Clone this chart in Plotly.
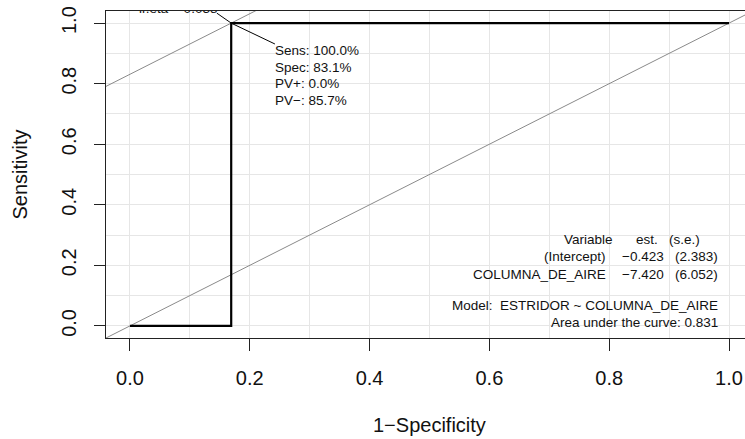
import plotly.graph_objects as go

# ROC curve (1-specificity, sensitivity)
fpr = [0.0, 0.169, 0.169, 1.0]
sens = [0.0, 0.0, 1.0, 1.0]
diag_x = [-0.04, 1.04]
cut_fpr = 0.169
cut_sens = 1.0
tangent_intercept = 0.831
lr_eta_label = "lr.eta = 0.038"
cut_lines = ["Sens: 100.0%", "Spec: 83.1%", "PV+: 0.0%", "PV\u2212: 85.7%"]
table_header = ["Variable", "est.", "(s.e.)"]
table_rows = [["(Intercept)", "\u22120.423", "(2.383)"],
              ["COLUMNA_DE_AIRE", "\u22127.420", "(6.052)"]]
model_text = "Model:  ESTRIDOR ~ COLUMNA_DE_AIRE"
auc_text = "Area under the curve: 0.831"
tick_vals = [0.0, 0.2, 0.4, 0.6, 0.8, 1.0]

FONT = "Liberation Sans, Arial, Helvetica, sans-serif"
fig = go.Figure()

# diagonal
fig.add_trace(go.Scatter(x=diag_x, y=diag_x, mode="lines",
                         line=dict(color="#8a8a8a", width=1), hoverinfo="skip"))
# tangent line
fig.add_trace(go.Scatter(x=diag_x, y=[v + tangent_intercept for v in diag_x], mode="lines",
                         line=dict(color="#8a8a8a", width=1), hoverinfo="skip"))
# ROC step curve
fig.add_trace(go.Scatter(x=fpr, y=sens, mode="lines",
                         line=dict(color="black", width=2.2), hoverinfo="skip"))
# pointer segment through cut point
fig.add_trace(go.Scatter(x=[cut_fpr - 0.024, cut_fpr, cut_fpr + 0.073],
                         y=[cut_sens + 0.033, cut_sens, cut_sens - 0.069], mode="lines",
                         line=dict(color="black", width=1), hoverinfo="skip"))
# lr.eta label (clipped by plot area)
fig.add_trace(go.Scatter(x=[cut_fpr - 0.023], y=[1.045], mode="text", text=[lr_eta_label],
                         textposition="middle left", cliponaxis=True,
                         textfont=dict(family=FONT, size=13.5, color="#111"), hoverinfo="skip"))

annotations = []
ys = [0.911, 0.855, 0.802, 0.746]
for t, yv in zip(cut_lines, ys):
    annotations.append(dict(x=0.2387, y=yv, xref="x", yref="y", text=t, showarrow=False,
                            xanchor="left", yanchor="middle",
                            font=dict(family=FONT, size=13.5, color="#111")))

hdr_x = [0.8097, 0.885, 0.955]
col_x = [0.798, 0.895, 0.985]
for t, xv in zip(table_header, hdr_x):
    annotations.append(dict(x=xv, y=0.2838, xref="x", yref="y", text=t, showarrow=False,
                            xanchor="right", yanchor="middle",
                            font=dict(family=FONT, size=13.5, color="#111")))
for row, yv in zip(table_rows, [0.2277, 0.1683]):
    for t, xv in zip(row, col_x):
        annotations.append(dict(x=xv, y=yv, xref="x", yref="y", text=t, showarrow=False,
                                xanchor="right", yanchor="middle",
                                font=dict(family=FONT, size=13.5, color="#111")))
for t, yv in [(model_text, 0.066), (auc_text, 0.0099)]:
    annotations.append(dict(x=0.985, y=yv, xref="x", yref="y", text=t, showarrow=False,
                            xanchor="right", yanchor="middle",
                            font=dict(family=FONT, size=13.5, color="#111")))

# axis titles
annotations.append(dict(x=0.5, y=-0.266, xref="x", yref="paper", text="1\u2212Specificity",
                        showarrow=False, xanchor="center", yanchor="middle",
                        font=dict(family=FONT, size=20, color="#111")))
annotations.append(dict(x=-0.1346, y=0.5, xref="paper", yref="y", text="Sensitivity",
                        showarrow=False, xanchor="center", yanchor="middle", textangle=-90,
                        font=dict(family=FONT, size=20, color="#111")))

grid = "#e6e6e6"
fig.update_layout(
    width=745, height=439,
    margin=dict(l=106, r=0, t=11, b=101, autoexpand=False),
    paper_bgcolor="white", plot_bgcolor="white",
    showlegend=False,
    annotations=annotations,
    xaxis=dict(range=[-0.04, (745 - 130) / 599], tickvals=tick_vals, tickformat=".1f",
               automargin=False,
               showgrid=True, gridcolor=grid, gridwidth=1, zeroline=False,
               minor=dict(dtick=0.1, tick0=0, showgrid=True, gridcolor=grid, gridwidth=1),
               showline=True, linecolor="#222", linewidth=1.2, mirror=True,
               ticks="outside", ticklen=12, tickcolor="#222", tickwidth=1,
               ticklabelstandoff=10,
               tickfont=dict(family=FONT, size=20, color="#111"), fixedrange=True),
    yaxis=dict(range=[-0.04, 1.04], tickvals=tick_vals, tickformat=".1f",
               automargin=False,
               showgrid=True, gridcolor=grid, gridwidth=1, zeroline=False,
               minor=dict(dtick=0.1, tick0=0, showgrid=True, gridcolor=grid, gridwidth=1),
               showline=True, linecolor="#222", linewidth=1.2, mirror=False,
               ticks="outside", ticklen=11, tickcolor="#222", tickwidth=1,
               tickangle=-90, ticklabelstandoff=10,
               tickfont=dict(family=FONT, size=20, color="#111"), fixedrange=True),
)

fig.write_html("out.html", config={"displayModeBar": False},
               post_script="document.body.style.margin='0px';document.body.style.overflow='hidden';")
